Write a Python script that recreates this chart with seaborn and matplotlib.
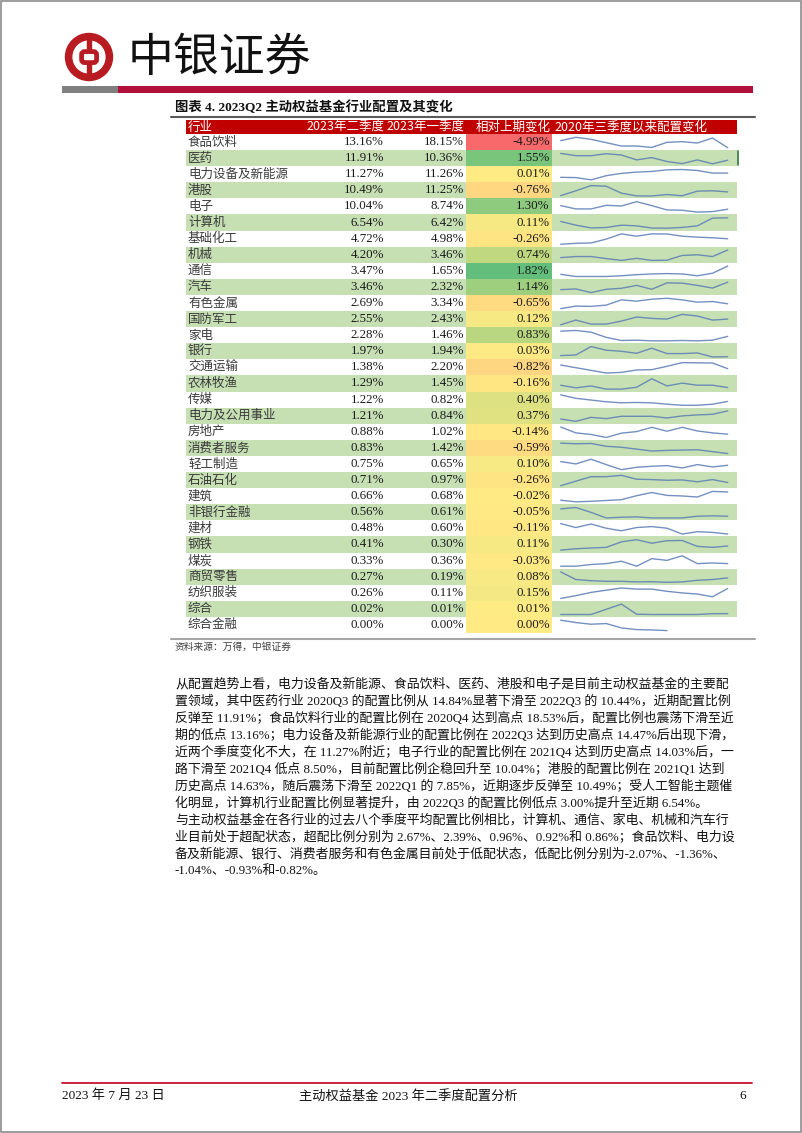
import numpy as np
import matplotlib
matplotlib.use('Agg')
import matplotlib.pyplot as plt
import matplotlib.patches as mpatches
from matplotlib.colors import LinearSegmentedColormap, TwoSlopeNorm
import seaborn as sns

sns.set_style('white')
plt.rcParams['font.family'] = ['Liberation Serif', 'Noto Sans CJK SC', 'DejaVu Sans']
CJK = ['Noto Sans CJK SC', 'DejaVu Sans']

industries = ['食品饮料', '医药', '电力设备及新能源', '港股', '电子', '计算机', '基础化工', '机械',
              '通信', '汽车', '有色金属', '国防军工', '家电', '银行', '交通运输', '农林牧渔',
              '传媒', '电力及公用事业', '房地产', '消费者服务', '轻工制造', '石油石化', '建筑',
              '非银行金融', '建材', '钢铁', '煤炭', '商贸零售', '纺织服装', '综合', '综合金融']
q2_2023 = [13.16, 11.91, 11.27, 10.49, 10.04, 6.54, 4.72, 4.20, 3.47, 3.46, 2.69, 2.55, 2.28,
           1.97, 1.38, 1.29, 1.22, 1.21, 0.88, 0.83, 0.75, 0.71, 0.66, 0.56, 0.48, 0.41, 0.33,
           0.27, 0.26, 0.02, 0.00]
q1_2023 = [18.15, 10.36, 11.26, 11.25, 8.74, 6.42, 4.98, 3.46, 1.65, 2.32, 3.34, 2.43, 1.46,
           1.94, 2.20, 1.45, 0.82, 0.84, 1.02, 1.42, 0.65, 0.97, 0.68, 0.61, 0.60, 0.30, 0.36,
           0.19, 0.11, 0.01, 0.00]
change = [-4.99, 1.55, 0.01, -0.76, 1.30, 0.11, -0.26, 0.74, 1.82, 1.14, -0.65, 0.12, 0.83,
          0.03, -0.82, -0.16, 0.40, 0.37, -0.14, -0.59, 0.10, -0.26, -0.02, -0.05, -0.11, 0.11,
          -0.03, 0.08, 0.15, 0.01, 0.00]

quarters = ['2020Q3', '2020Q4', '2021Q1', '2021Q2', '2021Q3', '2021Q4',
            '2022Q1', '2022Q2', '2022Q3', '2022Q4', '2023Q1', '2023Q2']
nan = np.nan
# allocation since 2020Q3 (%), one row per industry, estimated from the sparklines
trend = [
    [16.80, 18.53, 17.49, 15.76, 14.03, 14.03, 13.30, 15.93, 16.28, 15.58, 18.15, 13.16],
    [14.84, 13.86, 13.86, 14.70, 14.14, 12.04, 13.02, 11.34, 10.44, 12.04, 10.36, 11.91],
    [7.49, 7.20, 5.16, 8.94, 10.98, 12.14, 12.73, 14.18, 14.47, 13.60, 11.26, 11.27],
    [8.10, 11.24, 14.63, 14.20, 9.70, 7.90, 7.85, 8.80, 8.00, 11.00, 11.25, 10.49],
    [11.93, 10.18, 10.18, 12.10, 11.75, 14.03, 11.93, 9.65, 9.48, 8.50, 8.74, 10.04],
    [5.28, 4.03, 3.10, 3.23, 4.03, 3.80, 3.05, 3.00, 3.25, 3.80, 6.42, 6.54],
    [3.24, 3.50, 3.59, 4.63, 6.02, 5.41, 6.02, 6.00, 5.41, 5.15, 4.98, 4.72],
    [3.34, 3.46, 3.46, 3.23, 3.03, 3.26, 3.03, 3.05, 3.58, 3.66, 3.46, 4.20],
    [1.38, 0.83, 0.83, 0.83, 1.01, 1.29, 1.47, 1.56, 1.47, 1.01, 1.65, 3.47],
    [2.01, 2.14, 1.44, 2.08, 2.27, 2.84, 2.08, 3.33, 3.27, 2.84, 2.32, 3.46],
    [1.30, 2.04, 1.95, 2.32, 3.81, 3.44, 4.00, 4.27, 3.81, 3.16, 3.34, 2.69],
    [1.87, 2.43, 1.95, 1.95, 2.31, 2.79, 2.63, 2.55, 3.11, 2.91, 2.43, 2.55],
    [3.40, 3.55, 3.18, 2.06, 1.39, 1.46, 1.31, 1.31, 1.39, 1.31, 1.46, 2.28],
    [2.08, 2.15, 3.02, 2.64, 2.53, 2.32, 2.85, 2.29, 2.29, 2.36, 1.94, 1.97],
    [1.91, 1.52, 1.14, 0.75, 0.85, 1.19, 1.24, 1.72, 2.25, 2.22, 2.20, 1.38],
    [1.45, 1.27, 1.40, 1.18, 1.18, 1.31, 1.89, 1.40, 1.59, 1.45, 1.45, 1.29],
    [2.17, 1.67, 1.42, 1.17, 1.02, 1.07, 1.02, 0.82, 0.67, 0.67, 0.82, 1.22],
    [0.32, 0.06, 0.50, 0.36, 0.62, 0.62, 0.62, 0.43, 0.66, 0.77, 0.84, 1.21],
    [1.65, 1.02, 0.85, 0.53, 0.99, 1.16, 1.62, 1.20, 1.62, 1.23, 1.02, 0.88],
    [4.07, 3.87, 3.97, 3.09, 2.79, 2.20, 1.62, 1.81, 1.91, 2.01, 1.42, 0.83],
    [0.97, 0.83, 1.11, 0.79, 0.49, 0.63, 0.69, 0.73, 0.59, 0.79, 0.65, 0.75],
    [0.42, 0.83, 1.23, 1.23, 1.35, 1.00, 0.97, 0.91, 0.94, 0.77, 0.97, 0.71],
    [0.35, 0.29, 0.31, 0.34, 0.37, 0.52, 0.64, 0.53, 0.51, 0.47, 0.68, 0.66],
    [1.61, 1.81, 1.11, 0.31, 0.41, 0.46, 0.31, 0.31, 0.31, 0.56, 0.61, 0.56],
    [1.25, 0.96, 1.22, 0.91, 0.72, 0.96, 1.03, 0.91, 0.48, 0.65, 0.60, 0.48],
    [0.08, 0.19, 0.25, 0.30, 0.74, 0.91, 0.63, 0.83, 0.85, 0.38, 0.30, 0.41],
    [0.21, 0.21, 0.29, 0.33, 0.44, 0.21, 0.56, 0.48, 0.69, 0.33, 0.36, 0.33],
    [0.57, 0.19, 0.13, 0.10, 0.10, 0.07, 0.08, 0.05, 0.07, 0.15, 0.19, 0.27],
    [0.08, 0.13, 0.19, 0.23, 0.27, 0.25, 0.25, 0.21, 0.18, 0.16, 0.11, 0.26],
    [0.012, 0.012, 0.012, 0.030, 0.048, 0.013, 0.012, 0.012, 0.012, 0.012, 0.0149, 0.0151],
    [0.050, 0.043, 0.038, 0.040, 0.027, 0.022, 0.021, 0.019, nan, nan, nan, nan],
]

header = ['行业', '2023年二季度', '2023年一季度', '相对上期变化', '2020年三季度以来配置变化']
title = '图表 4. 2023Q2 主动权益基金行业配置及其变化'
source = '资料来源：万得，中银证券'
body = [
    '从配置趋势上看，电力设备及新能源、食品饮料、医药、港股和电子是目前主动权益基金的主要配',
    '置领域，其中医药行业 2020Q3 的配置比例从 14.84%显著下滑至 2022Q3 的 10.44%，近期配置比例',
    '反弹至 11.91%；食品饮料行业的配置比例在 2020Q4 达到高点 18.53%后，配置比例也震荡下滑至近',
    '期的低点 13.16%；电力设备及新能源行业的配置比例在 2022Q3 达到历史高点 14.47%后出现下滑，',
    '近两个季度变化不大，在 11.27%附近；电子行业的配置比例在 2021Q4 达到历史高点 14.03%后，一',
    '路下滑至 2021Q4 低点 8.50%，目前配置比例企稳回升至 10.04%；港股的配置比例在 2021Q1 达到',
    '历史高点 14.63%，随后震荡下滑至 2022Q1 的 7.85%，近期逐步反弹至 10.49%；受人工智能主题催',
    '化明显，计算机行业配置比例显著提升，由 2022Q3 的配置比例低点 3.00%提升至近期 6.54%。',
    '与主动权益基金在各行业的过去八个季度平均配置比例相比，计算机、通信、家电、机械和汽车行',
    '业目前处于超配状态，超配比例分别为 2.67%、2.39%、0.96%、0.92%和 0.86%；食品饮料、电力设',
    '备及新能源、银行、消费者服务和有色金属目前处于低配状态，低配比例分别为-2.07%、-1.36%、',
    '-1.04%、-0.93%和-0.82%。',
]
footer_date = '2023 年 7 月 23 日'
footer_title = '主动权益基金 2023 年二季度配置分析'
page_no = '6'

# ---- page layout (pixel units) ----
W, H = 802, 1133
fig = plt.figure(figsize=(W / 100, H / 100), dpi=100)
page = fig.add_axes([0, 0, 1, 1])
page.set_xlim(0, W)
page.set_ylim(H, 0)
page.axis('off')


def fbox(x0, y0, x1, y1):
    return [x0 / W, 1 - y1 / H, (x1 - x0) / W, (y1 - y0) / H]


page.add_patch(mpatches.Rectangle((1, 1), W - 2, H - 2, fill=False, ec='#8c8c8c', lw=1.2))

# logo
logo_red = '#B81C22'
page.add_patch(mpatches.Annulus((89, 57), 23.5, 6.2, color=logo_red))
page.add_patch(mpatches.Rectangle((86.8, 36), 4.6, 42, color=logo_red))
page.add_patch(mpatches.FancyBboxPatch((81.6, 51.6), 15, 11, boxstyle='round,pad=0,rounding_size=3',
                                       fc='white', ec=logo_red, lw=3.4))
page.text(128, 58, '中银证券', fontsize=33, va='center', ha='left', family=CJK, color='#111111')
page.add_patch(mpatches.Rectangle((62, 86), 56, 6.5, color='#7f7f7f', lw=0))
page.add_patch(mpatches.Rectangle((118, 86), 635, 6.5, color='#B0103A', lw=0))

# title and rules
page.text(175, 107, title, fontsize=9.6, fontweight='bold', va='center', ha='left', color='#111111')
page.plot([171, 755], [117, 117], color='#5a5a5a', lw=1.5)
page.plot([171, 755], [639, 639], color='#a6a6a6', lw=1.5)

# table header
page.add_patch(mpatches.Rectangle((186, 120), 551, 14, color='#C00000', lw=0))
hdr_kw = dict(fontsize=9, va='center', color='white', family=CJK)
page.text(188, 127, header[0], ha='left', **hdr_kw)
page.text(384, 127, header[1], ha='right', **hdr_kw)
page.text(464, 127, header[2], ha='right', **hdr_kw)
page.text(551, 127, header[3], ha='right', **hdr_kw)
page.text(554, 127, header[4], ha='left', **hdr_kw)

# table body
n = len(industries)
tab = fig.add_axes(fbox(186, 134, 737, 633))
tab.set_xlim(186, 737)
tab.set_ylim(n, 0)
tab.axis('off')
rows = np.arange(n)
tab.barh(rows[1::2] + 0.5, 737 - 186, left=186, height=1, color='#C6E0B4', lw=0)
for i in rows:
    tab.text(188, i + 0.5, industries[i], ha='left', va='center', fontsize=9,
             family=CJK, color='#3a3a3a')
    tab.text(384, i + 0.5, f'{q2_2023[i]:.2f}%', ha='right', va='center', fontsize=9.3, color='#1a1a1a')
    tab.text(464, i + 0.5, f'{q1_2023[i]:.2f}%', ha='right', va='center', fontsize=9.3, color='#1a1a1a')
tab.plot([737.6, 737.6], [1.05, 1.95], color='#3f7f4c', lw=1.3, clip_on=False)

# change column: excel-like 3 colour scale
excel3 = LinearSegmentedColormap.from_list('excel3', ['#F8696B', '#FFEB84', '#63BE7B'])
norm = TwoSlopeNorm(vmin=min(change), vcenter=float(np.median(change)), vmax=max(change))
hax = fig.add_axes(fbox(466, 134, 552, 633))
sns.heatmap(np.array(change).reshape(-1, 1), ax=hax, cmap=excel3, norm=norm, cbar=False,
            xticklabels=False, yticklabels=False, linewidths=0)
for i in rows:
    hax.text(0.975, i + 0.5, f'{change[i]:.2f}%', ha='right', va='center', fontsize=9.3, color='#1a1a1a')

# sparklines
row_h = (633 - 134) / n
xq = np.arange(len(quarters))
for i, series in enumerate(trend):
    top = 134 + i * row_h
    sax = fig.add_axes(fbox(560.7, top + 3.3, 727.7, top + 13.7))
    sns.lineplot(x=xq, y=np.array(series, dtype=float), ax=sax, color='#5B7DB5', lw=1.0, alpha=0.85)
    sax.set_xlim(0, len(quarters) - 1)
    sax.set_ylim(np.nanmin(series), np.nanmax(series))
    sax.axis('off')
    for ln in sax.lines:
        ln.set_clip_on(False)

# source + body text
page.text(175, 647, source, fontsize=7, va='center', ha='left', color='#404040', family=CJK)
for k, line in enumerate(body):
    page.text(175, 684 + 17 * k, line, fontsize=9.3, va='center', ha='left', color='#111111')

# footer
page.plot([62, 752], [1083, 1083], color='#C8102E', lw=1.3)
page.text(62, 1096, footer_date, fontsize=9.5, va='center', ha='left', color='#111111')
page.text(408, 1096, footer_title, fontsize=9.5, va='center', ha='center', color='#111111')
page.text(746, 1096, page_no, fontsize=9.5, va='center', ha='right', color='#111111')

fig.savefig('out.png', dpi=100)
